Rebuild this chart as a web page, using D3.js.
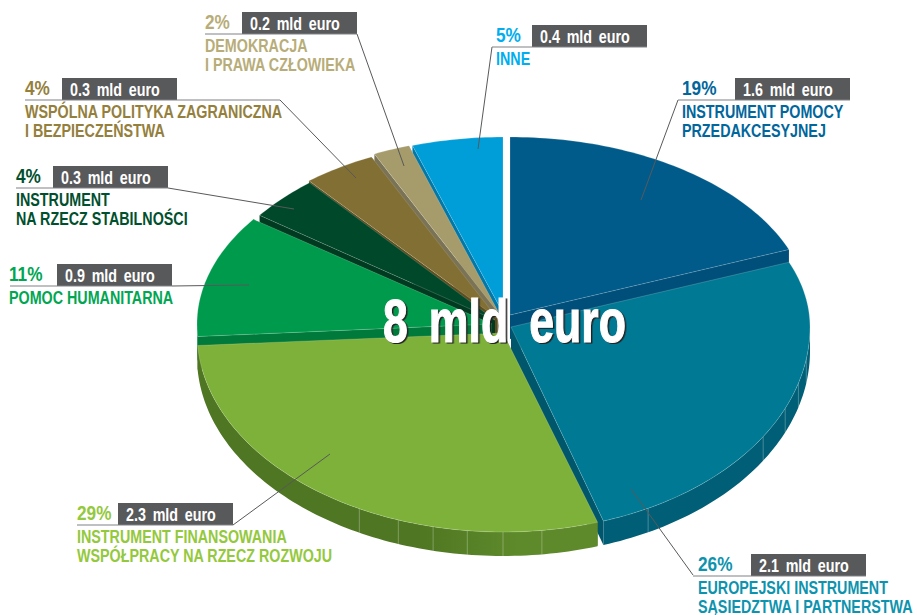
<!DOCTYPE html>
<html>
<head>
<meta charset="utf-8">
<style>
    html, body { margin: 0; padding: 0; background: #fff; }
    svg { display: block; }
    text { font-family: "Liberation Sans", sans-serif; font-weight: bold; }
</style>
</head>
<body>
<div id="chart"></div>
<script src="https://cdnjs.cloudflare.com/ajax/libs/d3/7.8.5/d3.min.js"></script>
<script>
// chart values, clockwise from 12 o'clock
var keys = ['przedakcesyjny', 'sasiedztwo', 'rozwoj', 'humanitarna', 'stabilnosc', 'wpzib', 'demokracja', 'inne'];
var shares = [19, 26, 29, 11, 4, 4, 2, 5];
var amounts = ['1.6', '2.1', '2.3', '0.9', '0.3', '0.3', '0.2', '0.4'];
var names = [
    ['INSTRUMENT POMOCY', 'PRZEDAKCESYJNEJ'],
    ['EUROPEJSKI INSTRUMENT', 'SĄSIEDZTWA I PARTNERSTWA'],
    ['INSTRUMENT FINANSOWANIA', 'WSPÓŁPRACY NA RZECZ ROZWOJU'],
    ['POMOC HUMANITARNA'],
    ['INSTRUMENT', 'NA RZECZ STABILNOŚCI'],
    ['WSPÓLNA POLITYKA ZAGRANICZNA', 'I BEZPIECZEŃSTWA'],
    ['DEMOKRACJA', 'I PRAWA CZŁOWIEKA'],
    ['INNE']
];
var totalLabel = '8 mld euro';

// colours per slice
var topColors = ['#005b8a', '#007a94', '#7db139', '#009a4c', '#00482a', '#826f33', '#a59b6b', '#009ed9'];
var wallColors = ['#004f7a', '#005f76', 'url(#wallGreen)', '#007a3a', '#003a20', '#5e4e1e', '#7a7355', '#0078a8'];
var faceColors = ['#004f7a', '#00566a', '#4f7622', '#007a3a', '#003a20', '#5e4e1e', '#7a7355', '#0078a8'];
var textColors = ['#00669c', '#0d93ae', '#94c83d', '#00a651', '#00502e', '#94803c', '#b8ad78', '#00aeef'];

// back to front, so the nearer slices cover the cut faces of the others
var drawOrder = [7, 6, 5, 4, 3, 0, 1, 2];

var width = 917,
    height = 615,
    cx = 504,
    cy = 324,
    depth = 24,
    narrow = 0.795;   // no condensed font installed, so squeeze the glyphs

// how far each slice is pulled out, and its own radii (the front of the pie is closer)
var explode = [
    {dx: 6, dy: -9, rx: 300, back: 178, front: 203},
    {dx: 7, dy: 3, rx: 299, back: 176, front: 204},
    {dx: -1, dy: 9, rx: 306, back: 178, front: 199},
    {dx: -12, dy: 0, rx: 295, back: 178, front: 200},
    {dx: -9, dy: -4, rx: 291, back: 178, front: 200},
    {dx: -7, dy: -6, rx: 295, back: 178, front: 200},
    {dx: -4, dy: -9, rx: 295, back: 178, front: 200},
    {dx: -1, dy: -11, rx: 293, back: 176, front: 200}
];

// seams on the outer wall, degrees from 12 o'clock
var seams = {
    1: [99, 106, 113.5, 122.5, 152.7],
    2: [172.7, 180, 186.7, 193.2, 200, 208]
};

// label furniture: box = left/top of the grey tag, rule = start of the underline
var labels = [
    {x: 682, y: 95, box: [735, 78], rule: 678, ruleEnd: 850, leader: [[678, 100], [641, 200]]},
    {x: 698, y: 571, box: [751, 554], rule: 693, ruleEnd: 866, leader: [[693, 575], [631, 489]]},
    {x: 77, y: 520, box: [118, 503], rule: 77, ruleEnd: 233, leader: [[233, 525], [330, 454]]},
    {x: 9, y: 281, box: [57, 264], rule: 10, ruleEnd: 172, leader: [[172, 286], [249, 285]]},
    {x: 16, y: 183, box: [53, 166], rule: 16, ruleEnd: 168, leader: [[168, 188], [294, 209]]},
    {x: 25, y: 95, box: [62, 78], rule: 25, ruleEnd: 280, leader: [[280, 100], [356, 178]]},
    {x: 205, y: 29, box: [242, 12], rule: 205, ruleEnd: 357, leader: [[357, 34], [404, 166]]},
    {x: 496, y: 42, box: [532, 25], rule: 492, ruleEnd: 647, leader: [[492, 47], [478, 149]]}
];

var svg = d3.select('#chart')
    .append('svg')
    .attr('width', width)
    .attr('height', height);

var grad = svg.append('defs').append('linearGradient')
    .attr('id', 'wallGreen');
grad.append('stop').attr('offset', '55%').attr('stop-color', '#4f7622');
grad.append('stop').attr('offset', '80%').attr('stop-color', '#5e8a2b');

var slices = d3.pie().sort(null).value(function(d) { return d; })(shares);
var line = d3.line();

function rim(i, t, drop) {
    var e = explode[i],
        c = Math.cos(t);
    return [
        cx + e.dx + e.rx * Math.sin(t),
        cy + e.dy - c * (c > 0 ? e.back : e.front) + (drop || 0)
    ];
}

function apex(i, drop) {
    return [cx + explode[i].dx, cy + explode[i].dy + (drop || 0)];
}

function arcAngles(t0, t1) {
    var n = Math.max(2, Math.ceil((t1 - t0) / 0.02));
    return d3.range(n + 1).map(function(k) { return t0 + (t1 - t0) * k / n; });
}

function topPath(d) {
    var pts = arcAngles(d.startAngle, d.endAngle).map(function(t) { return rim(d.index, t); });
    return line([apex(d.index)].concat(pts)) + 'Z';
}

function facePath(i, t) {
    return line([apex(i), rim(i, t), rim(i, t, depth), apex(i, depth)]) + 'Z';
}

function wallPath(d) {
    var t0 = Math.max(d.startAngle, Math.PI / 2),
        t1 = Math.min(d.endAngle, Math.PI * 1.5);
    if (t1 <= t0) return null;
    var ts = arcAngles(t0, t1);
    var upper = ts.map(function(t) { return rim(d.index, t); });
    var lower = ts.slice().reverse().map(function(t) { return rim(d.index, t, depth); });
    return line(upper.concat(lower)) + 'Z';
}

function squeezed(x, y, k) {
    return 'translate(' + x + ',' + y + ') scale(' + k + ',1)';
}

var pie = svg.append('g').attr('class', 'pie');

var sliceGroups = pie.selectAll('g')
    .data(drawOrder.map(function(i) { return slices[i]; }))
    .enter().append('g')
    .attr('class', function(d) { return 'slice ' + keys[d.index]; });

sliceGroups.append('path')
    .attr('d', function(d) { return facePath(d.index, d.startAngle); })
    .attr('fill', function(d) { return faceColors[d.index]; });

sliceGroups.append('path')
    .attr('d', function(d) { return facePath(d.index, d.endAngle); })
    .attr('fill', function(d) { return faceColors[d.index]; });

sliceGroups.append('path')
    .attr('d', wallPath)
    .attr('fill', function(d) { return wallColors[d.index]; });

sliceGroups.selectAll('line')
    .data(function(d) {
        return (seams[d.index] || []).map(function(a) {
            return {index: d.index, t: a * Math.PI / 180};
        });
    })
    .enter().append('line')
    .attr('x1', function(d) { return rim(d.index, d.t)[0]; })
    .attr('y1', function(d) { return rim(d.index, d.t)[1]; })
    .attr('x2', function(d) { return rim(d.index, d.t, depth)[0]; })
    .attr('y2', function(d) { return rim(d.index, d.t, depth)[1]; })
    .attr('stroke', '#fff')
    .attr('stroke-opacity', 0.35)
    .attr('stroke-width', 0.8);

sliceGroups.append('path')
    .attr('d', topPath)
    .attr('fill', function(d) { return topColors[d.index]; })
    .attr('stroke', '#fff')
    .attr('stroke-opacity', 0.3)
    .attr('stroke-width', 0.6);

// leaders and labels
var labelGroups = svg.append('g').attr('class', 'labels')
    .selectAll('g')
    .data(labels)
    .enter().append('g');

labelGroups.append('path')
    .attr('d', function(d) { return line(d.leader); })
    .attr('fill', 'none')
    .attr('stroke', '#58595b')
    .attr('stroke-width', 1);

labelGroups.append('rect')
    .attr('x', function(d) { return d.box[0]; })
    .attr('y', function(d) { return d.box[1]; })
    .attr('width', 115)
    .attr('height', 22)
    .attr('fill', '#58595b');

labelGroups.append('line')
    .attr('x1', function(d) { return d.rule; })
    .attr('x2', function(d) { return d.ruleEnd; })
    .attr('y1', function(d) { return d.box[1] + 22; })
    .attr('y2', function(d) { return d.box[1] + 22; })
    .attr('stroke', '#808285')
    .attr('stroke-width', 1.2);

labelGroups.append('text')
    .attr('transform', function(d) { return squeezed(d.x, d.y, 0.82); })
    .attr('font-size', 21)
    .attr('fill', function(d, i) { return textColors[i]; })
    .text(function(d, i) { return shares[i] + '%'; });

labelGroups.append('text')
    .attr('transform', function(d) { return squeezed(d.box[0] + 8, d.box[1] + 18, narrow); })
    .attr('font-size', 18)
    .attr('word-spacing', 3.5)
    .attr('fill', '#fff')
    .text(function(d, i) { return amounts[i] + ' mld euro'; });

labelGroups.each(function(d, i) {
    d3.select(this).selectAll('text.name')
        .data(names[i])
        .enter().append('text')
        .attr('class', 'name')
        .attr('transform', function(n, k) { return squeezed(d.x, d.box[1] + 39.6 + k * 19.3, narrow); })
        .attr('font-size', 18)
        .attr('fill', textColors[i])
        .text(function(n) { return n; });
});

svg.append('text')
    .attr('class', 'total')
    .attr('transform', squeezed(383, 342, 0.72))
    .attr('font-size', 62)
    .attr('fill', '#fff')
    .attr('stroke', '#fff')
    .attr('stroke-width', 1.2)
    .attr('word-spacing', 12)
    .attr('style', 'filter: drop-shadow(2px 1px 0 #222);')
    .text(totalLabel);
</script>
</body>
</html>
